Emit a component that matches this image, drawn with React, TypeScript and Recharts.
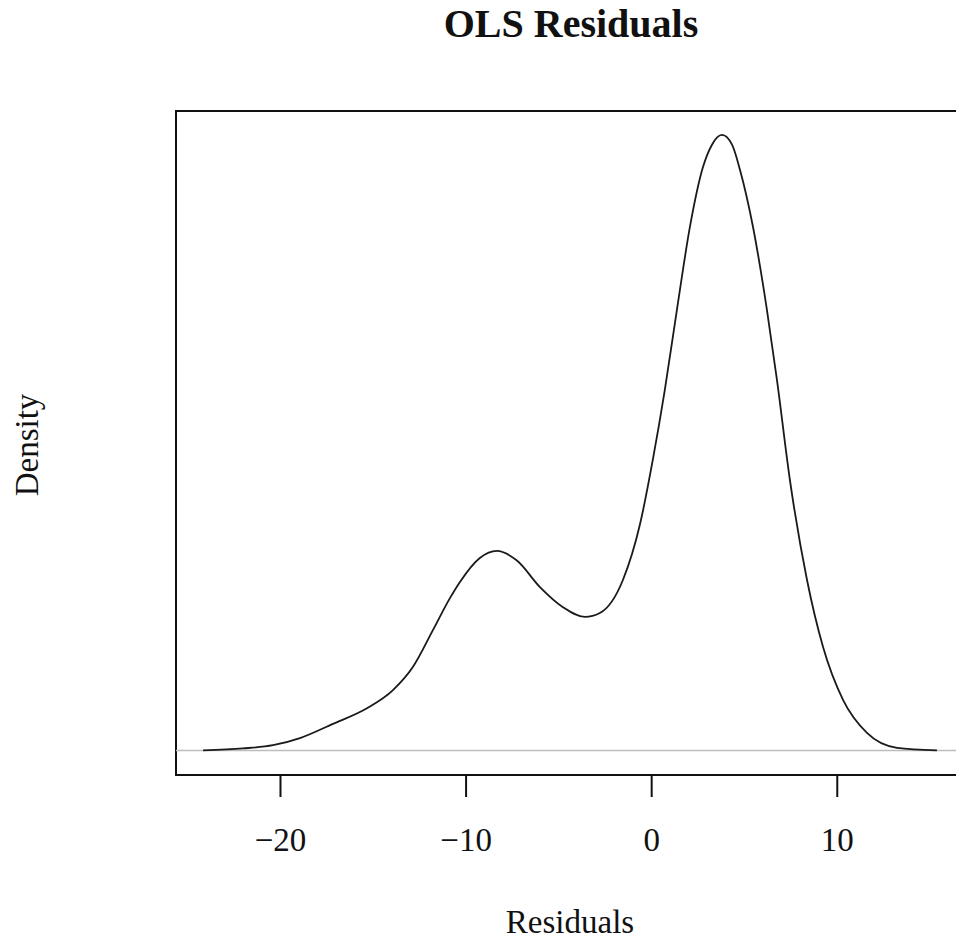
import { ComposedChart, Line, XAxis, YAxis, ReferenceLine, ReferenceArea } from 'recharts';

// residual values (x) and estimated kernel density
const residuals = [
  -24.17, -22.02, -20.4, -18.95, -17.17, -15.34, -13.94, -12.86, -11.78, -10.87,
  -10.33, -9.26, -8.34, -7.26, -6.02, -4.78, -3.59, -2.79, -1.55, -0.63,
  0.07, 0.7, 1.36, 2.06, 2.76, 3.25, 3.79, 4.33, 4.76, 5.46,
  6.21, 6.75, 7.45, 8.37, 9.23, 10.31, 11.6, 13.22, 15.37,
];
const density = [
  0.0, 0.0003, 0.0008, 0.0019, 0.0041, 0.0065, 0.0093, 0.0129, 0.0186, 0.0235,
  0.026, 0.0297, 0.0308, 0.0293, 0.0252, 0.0221, 0.0206, 0.0212, 0.0263, 0.0349,
  0.045, 0.0555, 0.068, 0.0808, 0.09, 0.0935, 0.095, 0.0935, 0.0896, 0.0808,
  0.068, 0.0572, 0.0417, 0.0263, 0.016, 0.0078, 0.0027, 0.0004, 0.0,
];
const xTicks = [-20, -10, 0, 10];

const X_MIN = -25.63;
const X_MAX = 16.99;
const Y_MIN = -0.0038;
const Y_MAX = 0.0987;

const data = residuals.map((x, i) => ({ x, d: density[i] }));

const serif = '"Liberation Serif", "Times New Roman", serif';

export default function App() {
  return (
    <div style={{ position: 'fixed', left: 0, top: 0, width: 956, height: 940, overflow: 'hidden', background: '#fff' }}>
      <div style={{ position: 'absolute', left: 0, top: 0 }}>
        <ComposedChart width={1000} height={940} data={data} margin={{ top: 111, right: 33, left: 176, bottom: 0 }}>
          <XAxis
            type="number"
            dataKey="x"
            domain={[X_MIN, X_MAX]}
            allowDataOverflow
            ticks={xTicks}
            tickFormatter={(v: number) => String(v).replace('-', '\u2212')}
            axisLine={false}
            tickSize={22}
            tickMargin={31}
            tickLine={{ stroke: '#111', strokeWidth: 2 }}
            tick={{ fill: '#111', fontSize: 33, fontFamily: serif }}
            height={165}
          />
          <YAxis type="number" hide domain={[Y_MIN, Y_MAX]} allowDataOverflow />
          <ReferenceLine y={0} stroke="#bdbdbd" strokeWidth={1.5} />
          <Line
            dataKey="d"
            type="monotone"
            dot={false}
            stroke="#1a1a1a"
            strokeWidth={1.8}
            isAnimationActive={false}
          />
          <ReferenceArea
            x1={X_MIN}
            x2={X_MAX}
            y1={Y_MIN}
            y2={Y_MAX}
            fill="none"
            stroke="#111"
            strokeWidth={2}
            ifOverflow="visible"
          />
        </ComposedChart>
      </div>
      <svg width={956} height={940} style={{ position: 'absolute', left: 0, top: 0, pointerEvents: 'none' }}>
        <text x={571} y={37} textAnchor="middle" fontFamily={serif} fontWeight="bold" fontSize={40} fill="#111">
          OLS Residuals
        </text>
        <text x={570} y={933} textAnchor="middle" fontFamily={serif} fontSize={33} fill="#111">
          Residuals
        </text>
        <text
          x={0}
          y={0}
          transform="translate(38,445) rotate(-90)"
          textAnchor="middle"
          fontFamily={serif}
          fontSize={33}
          fill="#111"
        >
          Density
        </text>
      </svg>
    </div>
  );
}
